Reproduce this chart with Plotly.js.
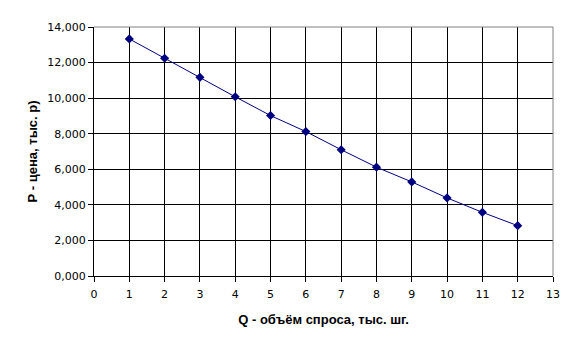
<!DOCTYPE html>
<html>
<head>
<meta charset="utf-8">
<script src="https://cdn.plot.ly/plotly-3.0.1.min.js"></script>
<style>html,body{margin:0;padding:0;background:#fff;}#chart{width:578px;height:349px;}</style>
</head>
<body>
<div id="chart"></div>
<script>
var quantity = [1, 2, 3, 4, 5, 6, 7, 8, 9, 10, 11, 12];
var price = [13330, 12240, 11170, 10075, 9020, 8120, 7100, 6120, 5290, 4390, 3580, 2830];
var yTickVals = [0, 2000, 4000, 6000, 8000, 10000, 12000, 14000];
var yTickText = ["0,000", "2,000", "4,000", "6,000", "8,000", "10,000", "12,000", "14,000"];
var xTickVals = [0, 1, 2, 3, 4, 5, 6, 7, 8, 9, 10, 11, 12, 13];
var xTitle = 'Q - объём спроса, тыс. шг.';
var yTitle = 'Р - цена, тыс. р)';

var trace = {
  x: quantity, y: price, type: 'scatter', mode: 'lines+markers',
  line: {color: '#000080', width: 1},
  marker: {symbol: 'diamond', size: 7, color: '#000080'},
  hoverinfo: 'none'
};
var fontFam = 'DejaVu Sans, sans-serif';
var titleFam = 'Liberation Sans, Arial, sans-serif';
var layout = {
  width: 578, height: 349,
  margin: {l: 94, r: 25, t: 27, b: 73},
  paper_bgcolor: '#fff', plot_bgcolor: '#fff',
  showlegend: false,
  font: {family: fontFam, size: 11, color: '#000'},
  xaxis: {
    range: [0, 13], tickvals: xTickVals, ticks: 'outside', ticklen: 5, tickcolor: '#000',
    ticklabelstandoff: 3,
    showgrid: true, gridcolor: '#000', gridwidth: 1, zeroline: false,
    showline: true, linecolor: '#000', linewidth: 1,
    tickfont: {family: fontFam, size: 11, color: '#000'},
    title: {text: xTitle, font: {family: titleFam, size: 13, color: '#000', weight: 'bold'}, standoff: 14}
  },
  yaxis: {
    range: [0, 14000], tickvals: yTickVals, ticktext: yTickText, ticks: 'outside', ticklen: 5, tickcolor: '#000',
    showgrid: true, gridcolor: '#000', gridwidth: 1, zeroline: false,
    showline: true, linecolor: '#000', linewidth: 1,
    tickfont: {family: fontFam, size: 11, color: '#000'},
    title: {text: yTitle, font: {family: titleFam, size: 13, color: '#000', weight: 'bold'}, standoff: 6}
  },
  shapes: [
    {type: 'line', xref: 'paper', yref: 'paper', x0: 0, x1: 1, y0: 1, y1: 1, line: {color: '#808080', width: 1}, layer: 'above'},
    {type: 'line', xref: 'paper', yref: 'paper', x0: 1, x1: 1, y0: 0, y1: 1, line: {color: '#808080', width: 1}, layer: 'above'}
  ]
};
Plotly.newPlot('chart', [trace], layout, {staticPlot: true, displayModeBar: false});
</script>
</body>
</html>
